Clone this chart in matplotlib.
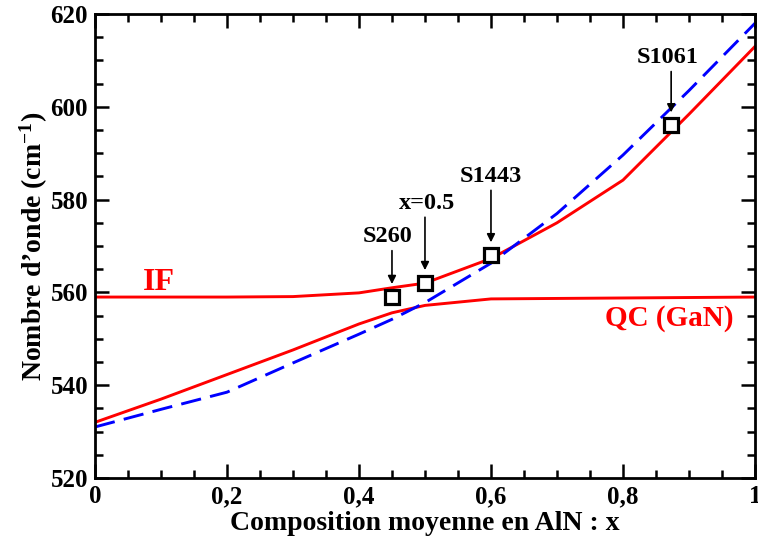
import matplotlib
matplotlib.use("Agg")
import matplotlib.pyplot as plt
from matplotlib.ticker import MultipleLocator, FuncFormatter

plt.rcParams['font.family'] = ['Liberation Serif', 'DejaVu Serif']
plt.rcParams['font.weight'] = 'bold'
plt.rcParams['mathtext.fontset'] = 'custom'
plt.rcParams['mathtext.rm'] = 'Liberation Serif:bold'
plt.rcParams['mathtext.it'] = 'Liberation Serif:bold'
plt.rcParams['mathtext.bf'] = 'Liberation Serif:bold'

# Data
x_if = [0, 0.1, 0.2, 0.3, 0.4, 0.45, 0.5, 0.6, 0.7, 0.8, 0.9, 1.0]
y_if = [559, 559, 559, 559.1, 559.9, 561, 562, 567.3, 575, 584.2, 598.4, 613]

x_qc = [0, 0.1, 0.2, 0.3, 0.4, 0.45, 0.5, 0.6, 0.7, 0.8, 0.9, 1.0]
y_qc = [532, 537, 542.3, 547.6, 553.2, 555.6, 557.2, 558.6, 558.7, 558.8, 558.9, 559]

x_blue = [0, 0.1, 0.2, 0.3, 0.4, 0.45, 0.5, 0.6, 0.7, 0.8, 0.9, 1.0]
y_blue = [531, 534.8, 538.5, 544.8, 551, 554.2, 557.8, 566.3, 577, 589.6, 603.5, 618]

samples = ["S260", "x=0.5", "S1443", "S1061"]
sample_x = [0.45, 0.5, 0.6, 0.873]
sample_y = [559, 562, 568, 596]
label_y = [572.0, 579.2, 585.0, 610.6]
label_dx = [-0.006, 0.003, 0.0, -0.006]

fig = plt.figure(figsize=(7.58, 5.45), dpi=100)
ax = fig.add_axes([0.1253, 0.1229, 0.8707, 0.8514])

ax.plot(x_if, y_if, color='#ff0000', lw=2.1, zorder=2)
ax.plot(x_qc, y_qc, color='#ff0000', lw=2.1, zorder=2)
ax.plot(x_blue, y_blue, color='#0000ff', lw=2.1, dashes=(7, 3.2), zorder=2)
ax.plot(sample_x, sample_y, linestyle='none', marker='s', markersize=9.5,
        markerfacecolor='white', markeredgecolor='black', markeredgewidth=2.3, zorder=4)

for name, sx, sy, ly, dx in zip(samples, sample_x, sample_y, label_y, label_dx):
    ax.text(sx + dx, ly, name, ha='center', va='center', fontsize=17.5, fontweight='bold')
    ax.annotate('', xy=(sx, sy + 2.8), xytext=(sx, ly - 3.0),
                arrowprops=dict(arrowstyle='-|>', color='black', lw=1.2,
                                mutation_scale=12, shrinkA=0, shrinkB=0))

ax.text(0.097, 562.2, "IF", color='#ff0000', fontsize=23, fontweight='bold',
        ha='center', va='center')
ax.text(0.870, 554.4, "QC (GaN)", color='#ff0000', fontsize=21, fontweight='bold',
        ha='center', va='center')

ax.set_xlim(0, 1)
ax.set_ylim(520, 620)
ax.xaxis.set_major_locator(MultipleLocator(0.2))
ax.xaxis.set_minor_locator(MultipleLocator(0.05))
ax.yaxis.set_major_locator(MultipleLocator(20))
ax.yaxis.set_minor_locator(MultipleLocator(5))

def xfmt(v, pos):
    if abs(v) < 1e-9:
        return "0"
    if abs(v - 1) < 1e-9:
        return "1"
    return ("%.1f" % v).replace('.', ',')
ax.xaxis.set_major_formatter(FuncFormatter(xfmt))
ax.yaxis.set_major_formatter(FuncFormatter(lambda v, p: "%d" % v))

ax.tick_params(which='both', direction='in', top=True, right=True, width=1.8,
               labelsize=18)
ax.tick_params(which='major', length=10, pad=5)
ax.tick_params(which='minor', length=6)
for lab in ax.get_xticklabels() + ax.get_yticklabels():
    lab.set_fontweight('bold')
for s in ax.spines.values():
    s.set_linewidth(2)

ax.set_xlabel("Composition moyenne en AlN : x", fontsize=20, fontweight='bold', labelpad=2)
ax.set_ylabel("Nombre d\u2019onde (cm$^{-1}$)", fontsize=20, fontweight='bold', labelpad=0)

fig.savefig("out.png", dpi=100)
